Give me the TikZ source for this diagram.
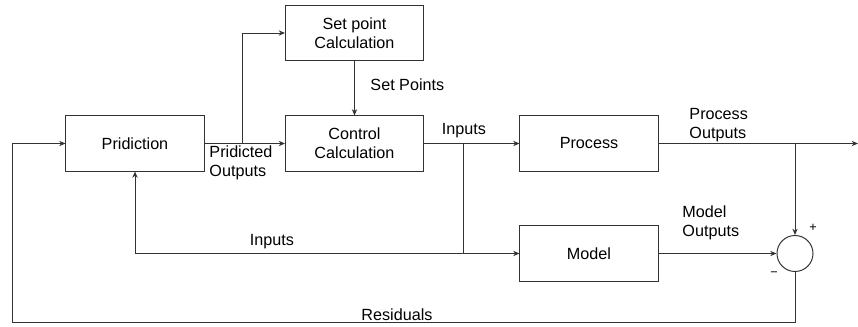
\documentclass[tikz,border=0pt]{standalone}
\usepackage{fontspec}
\setmainfont{Liberation Sans}
\usetikzlibrary{arrows.meta}
\usetikzlibrary{positioning, shapes.geometric}
\tikzset{
block/.style = { rectangle, draw = black!80, fill = white, minimum width = 3.45cm, minimum height = 1.375cm, align = center, font = \fontsize{11.5}{13.5}\selectfont },
sum/.style = { circle, draw = black!80, fill = white, minimum size = 0.9cm, inner sep = 0pt },
lbl/.style = { align = left, inner sep = 0pt, font = \fontsize{11.5}{13.5}\selectfont },
flow/.style = { draw = black!80, line width = 0.7pt, -{Stealth[length = 4.5pt, width = 3.8pt]} },
}

\begin{document}
\begin{tikzpicture}[x = 0.025cm, y = -0.025cm, line width = 0.7pt]
      \useasboundingbox (0, 0) rectangle (858, 327);
      % blocks
      \node[block] (pred) at (135, 143.5) {Pridiction};
      \node[block] (setpt) at (354.5, 33) {Set point\\Calculation};
      \node[block] (ctrl) at (354.5, 143.5) {Control\\Calculation};
      \node[block] (proc) at (589, 143.5) {Process};
      \node[block] (model) at (589, 253.5) {Model};
      \node[sum] (sum) at (795, 253.5) {};
      % junctions
      \coordinate (split) at (242, 143.5);
      \coordinate (branch) at (463, 143.5);
      \coordinate (back) at (463, 253.5);
      \coordinate (tap) at (795, 143.5);
      \coordinate (outend) at (858, 143.5);
      \coordinate (resid) at (12, 322);
      % connectors
      \draw[flow] (pred) -- (ctrl);
      \draw[flow] (split) |- (setpt.west);
      \draw[flow] (setpt) -- (ctrl);
      \draw[flow] (ctrl) -- (proc);
      \draw[flow] (branch) |- (model.west);
      \draw[flow] (back) -| (pred.south);
      \draw[flow] (proc) -- (outend);
      \draw[flow] (tap) -- (sum.north);
      \draw[flow] (model) -- (sum.west);
      \draw[flow] (sum.south) |- (resid) |- (pred.west);
      % labels
      \node[lbl, anchor = west] (lsetpt) at (370, 85) {Set Points};
      \node[lbl] (lin) at (464, 131) {Inputs};
      \node[lbl, anchor = west] (lpred) at (209, 163) {Pridicted\\Outputs};
      \node[lbl, anchor = west] (lproc) at (689, 125) {Process\\Outputs};
      \node[lbl, anchor = west] (lmodel) at (682, 223) {Model\\Outputs};
      \node[lbl] (linb) at (272, 242) {Inputs};
      \node[lbl] (lres) at (397, 315) {Residuals};
      \node[lbl] (lplus) at (813, 228) {\small +};
      \node[lbl] (lminus) at (774, 274) {\small −};
\end{tikzpicture}
\end{document}
